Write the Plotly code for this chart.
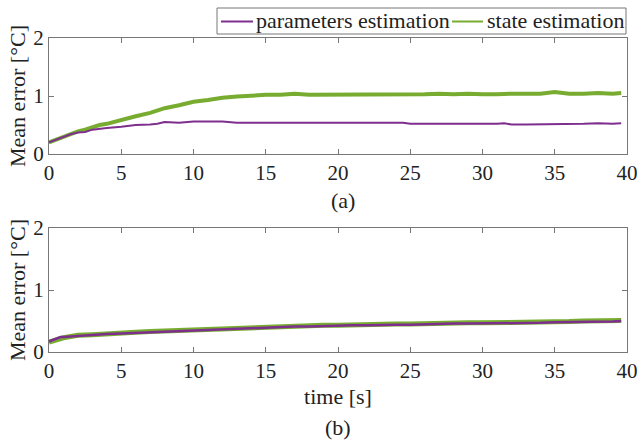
import plotly.graph_objects as go

# ---- data ----
time_a = [0, 0.5, 1, 1.5, 2, 2.5, 3, 3.5, 4, 5, 6, 7, 7.5, 8, 9, 10, 11, 12, 13, 14, 15, 16, 17, 18, 19, 20,
          21, 22, 23, 24, 24.5, 25, 26, 27, 28, 29, 29.5, 30, 31, 31.5, 32, 33, 34, 35, 36, 37, 38, 39, 39.6]
param_a = [0.20, 0.25, 0.30, 0.34, 0.37, 0.38, 0.42, 0.44, 0.45, 0.47, 0.50, 0.51, 0.52, 0.55, 0.54, 0.56, 0.56,
           0.56, 0.54, 0.54, 0.54, 0.54, 0.54, 0.54, 0.54, 0.54, 0.53, 0.53, 0.53, 0.53, 0.54, 0.52, 0.52, 0.52,
           0.52, 0.52, 0.51, 0.51, 0.52, 0.53, 0.51, 0.51, 0.51, 0.52, 0.52, 0.52, 0.53, 0.52, 0.53]
state_a = [0.20, 0.25, 0.30, 0.35, 0.39, 0.42, 0.46, 0.50, 0.52, 0.59, 0.65, 0.71, 0.75, 0.79, 0.84, 0.90, 0.93,
           0.97, 0.99, 1.01, 1.02, 1.02, 1.04, 1.02, 1.02, 1.03, 1.02, 1.03, 1.03, 1.03, 1.03, 1.03, 1.03, 1.04,
           1.03, 1.04, 1.03, 1.03, 1.03, 1.04, 1.04, 1.04, 1.04, 1.07, 1.04, 1.04, 1.05, 1.04, 1.05]

time_b = [0, 0.5, 0.8, 1, 1.5, 2, 3, 4, 5, 6, 7, 8, 9, 10, 11, 12, 13, 14, 15, 16, 17, 18, 19, 20, 21, 22, 23,
          24, 25, 26, 27, 28, 29, 30, 31, 32, 33, 34, 35, 36, 37, 38, 39, 39.6]
param_b = [0.17, 0.21, 0.24, 0.24, 0.25, 0.26, 0.28, 0.29, 0.30, 0.31, 0.32, 0.33, 0.34, 0.35, 0.36, 0.37, 0.38,
           0.39, 0.40, 0.40, 0.41, 0.41, 0.42, 0.42, 0.43, 0.43, 0.44, 0.44, 0.44, 0.45, 0.45, 0.46, 0.46, 0.46,
           0.46, 0.47, 0.47, 0.47, 0.48, 0.48, 0.49, 0.49, 0.49, 0.50]
state_b = [0.16, 0.20, 0.22, 0.23, 0.25, 0.27, 0.28, 0.30, 0.31, 0.32, 0.33, 0.34, 0.35, 0.36, 0.37, 0.38, 0.39,
           0.40, 0.41, 0.41, 0.42, 0.42, 0.43, 0.43, 0.44, 0.44, 0.45, 0.45, 0.45, 0.46, 0.46, 0.47, 0.47, 0.47,
           0.47, 0.48, 0.48, 0.48, 0.49, 0.49, 0.50, 0.50, 0.50, 0.51]

series_names = ["parameters estimation", "state estimation"]
x_ticks = [0, 5, 10, 15, 20, 25, 30, 35, 40]
y_ticks = [0, 1, 2]

PURPLE = "#7E2F8E"
GREEN = "#77AC30"
FONT = "Liberation Serif"
TXT = "#222"
FS_TICK = 21
FS = 22
AXC = "#777"

fig = go.Figure()
fig.add_trace(go.Scatter(x=time_a, y=state_a, mode="lines", line=dict(color=GREEN, width=4),
                         name=series_names[1], xaxis="x", yaxis="y", showlegend=False))
fig.add_trace(go.Scatter(x=time_a, y=param_a, mode="lines", line=dict(color=PURPLE, width=2),
                         name=series_names[0], xaxis="x", yaxis="y", showlegend=False))
fig.add_trace(go.Scatter(x=time_b, y=state_b, mode="lines", line=dict(color=GREEN, width=5),
                         name=series_names[1], xaxis="x2", yaxis="y2", showlegend=False))
fig.add_trace(go.Scatter(x=time_b, y=param_b, mode="lines", line=dict(color=PURPLE, width=2.5),
                         name=series_names[0], xaxis="x2", yaxis="y2", showlegend=False))

axis_common = dict(range=[0, 40], tickvals=x_ticks, ticks="inside", ticklen=5, tickcolor=AXC,
                   showline=True, linecolor=AXC, linewidth=1, mirror="ticks", showgrid=False,
                   zeroline=False, tickfont=dict(size=FS_TICK, color=TXT, family=FONT))
yaxis_common = dict(range=[0, 2], tickvals=y_ticks, ticks="inside", ticklen=5, tickcolor=AXC,
                    showline=True, linecolor=AXC, linewidth=1, mirror="ticks", showgrid=False,
                    zeroline=False, tickfont=dict(size=FS_TICK, color=TXT, family=FONT),
                    title=dict(text="Mean error [°C]", font=dict(size=FS, color=TXT, family=FONT), standoff=1))

W, H = 639, 443
ML, MR, MT, MB = 49, 12, 38, 91
plot_w = W - ML - MR
plot_h = H - MT - MB
def px(pix):
    return (pix - ML) / plot_w
def py(pix):
    return (H - MB - pix) / plot_h

fig.update_layout(
    width=W, height=H,
    margin=dict(l=ML, r=MR, t=MT, b=MB, autoexpand=False),
    paper_bgcolor="white", plot_bgcolor="white",
    font=dict(family=FONT, color=TXT),
    showlegend=False,
    xaxis=dict(domain=[0, 1], anchor="y", **axis_common),
    yaxis=dict(domain=[py(154), 1], anchor="x", **yaxis_common),
    xaxis2=dict(domain=[0, 1], anchor="y2",
                title=dict(text="time [s]", font=dict(size=FS, color=TXT, family=FONT), standoff=6),
                **axis_common),
    yaxis2=dict(domain=[0, py(228)], anchor="x2", **yaxis_common),
)

# legend (drawn as a boxed key above the upper panel)
fig.add_shape(type="rect", xref="paper", yref="paper", x0=px(217), x1=px(626), y0=py(34), y1=py(8),
              line=dict(color=AXC, width=1), fillcolor="white", layer="above")
legend_items = [(series_names[0], PURPLE, 221, 253, 255), (series_names[1], GREEN, 452, 483, 486)]
for name, color, lx0, lx1, tx in legend_items:
    fig.add_shape(type="line", xref="paper", yref="paper", x0=px(lx0), x1=px(lx1), y0=py(21.5), y1=py(21.5),
                  line=dict(color=color, width=2), layer="above")
    fig.add_annotation(text=name, xref="paper", yref="paper", x=px(tx), y=py(21), xanchor="left",
                       yanchor="middle", showarrow=False, borderpad=0,
                       font=dict(size=FS, color=TXT, family=FONT))

fig.add_annotation(text="(a)", x=px(343), xref="paper", y=py(200), yref="paper", showarrow=False,
                   yanchor="middle", font=dict(size=FS, color=TXT, family=FONT))
fig.add_annotation(text="(b)", x=px(338), xref="paper", y=py(427), yref="paper", showarrow=False,
                   yanchor="middle", font=dict(size=FS, color=TXT, family=FONT))

fig.write_html("out.html", config={"displayModeBar": False},
               post_script="document.body.style.margin='0px';")
